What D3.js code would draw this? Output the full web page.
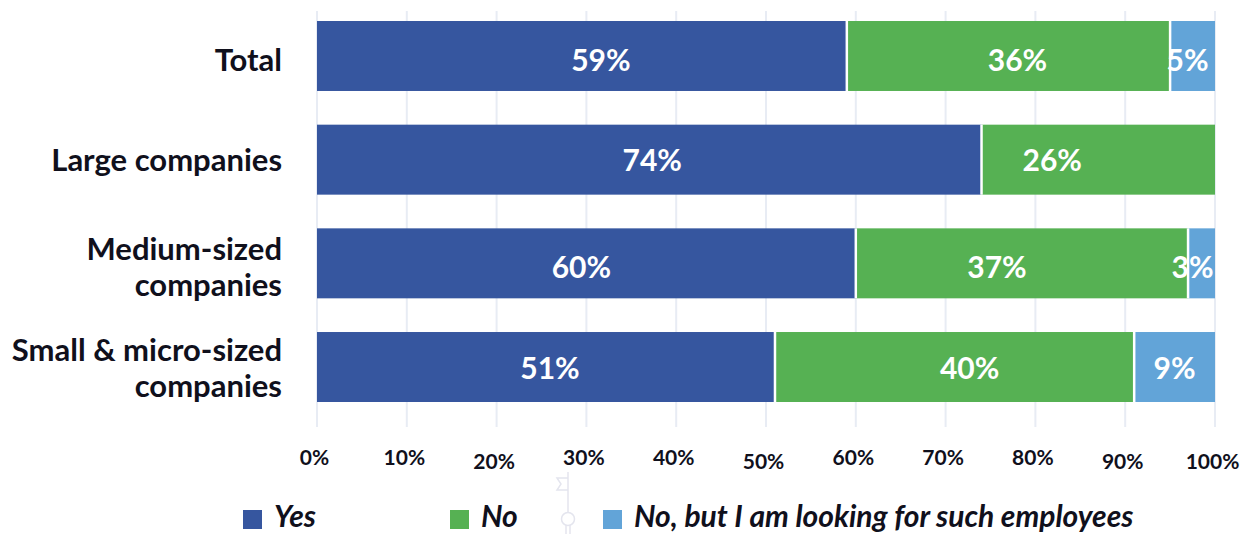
<!DOCTYPE html>
<html>
<head>
<meta charset="utf-8">
<script src="https://cdn.jsdelivr.net/npm/d3@7"></script>
<style>
  html, body { margin: 0; padding: 0; background: #ffffff; }
  svg { display: block; font-family: Lato, "Open Sans", sans-serif; }
</style>
</head>
<body>
<svg id="chart" width="1242" height="534"></svg>
<script>
// Survey answers by company size (shares in percent)
const categories = ["Total", "Large companies", "Medium-sized companies", "Small & micro-sized companies"];
const categoryLines = [["Total"], ["Large companies"], ["Medium-sized", "companies"], ["Small & micro-sized", "companies"]];
const seriesNames = ["Yes", "No", "No, but I am looking for such employees"];
const yesValues = [59, 74, 60, 51];
const noValues = [36, 26, 37, 40];
const lookingValues = [5, 0, 3, 9];
const tickValues = [0, 10, 20, 30, 40, 50, 60, 70, 80, 90, 100];
const tickLabels = ["0%", "10%", "20%", "30%", "40%", "50%", "60%", "70%", "80%", "90%", "100%"];

// layout nudges for hand-placed labels (pixels)
const valueLabelShiftX = [[19, 3, -5, 4], [9, -46, -25, 15], [-5, 0, -9, 0]];
const rowLabelShiftY = [4, 0, 4, 1];
const tickLabelShiftY = [0, 0, 4, 0, 0, 4, 0, 0, 0, 4, 4];

const colors = ["#36569f", "#56b153", "#62a4d8"];
const textColor = "#10101c";

const svg = d3.select("#chart");

const x = d3.scaleLinear().domain([0, 100]).range([317, 1215]);
const y = d3.scaleBand().domain(categories).range([21, 402]).paddingInner(0.325).paddingOuter(0);

// vertical grid lines
svg.append("g").attr("class", "grid")
  .selectAll("line").data(tickValues).join("line")
  .attr("x1", d => x(d)).attr("x2", d => x(d))
  .attr("y1", 11).attr("y2", 427)
  .attr("stroke", "#e8ecf4").attr("stroke-width", 2);

// stack the three answer series
const rows = categories.map((c, i) => ({ cat: c, idx: i, yes: yesValues[i], no: noValues[i], look: lookingValues[i] }));
const stack = d3.stack().keys(["yes", "no", "look"])(rows);

const bars = svg.append("g").attr("class", "bars");
stack.forEach((layer, si) => {
  const segs = layer.filter(d => d[1] - d[0] > 0);
  const g = bars.append("g");
  g.selectAll("rect").data(segs).join("rect")
    .attr("x", d => x(d[0]))
    .attr("y", d => y(d.data.cat))
    .attr("width", d => x(d[1]) - x(d[0]))
    .attr("height", y.bandwidth())
    .attr("fill", colors[si]);
  // white separators between segments
  if (si > 0) {
    g.selectAll("line").data(segs).join("line")
      .attr("x1", d => x(d[0])).attr("x2", d => x(d[0]))
      .attr("y1", d => y(d.data.cat)).attr("y2", d => y(d.data.cat) + y.bandwidth())
      .attr("stroke", "#ffffff").attr("stroke-width", 2.5);
  }
  g.selectAll("text").data(segs).join("text")
    .attr("x", d => (x(d[0]) + x(d[1])) / 2 + valueLabelShiftX[si][d.data.idx])
    .attr("y", d => y(d.data.cat) + y.bandwidth() / 2 + rowLabelShiftY[d.data.idx] + 11)
    .attr("text-anchor", "middle")
    .attr("fill", "#ffffff")
    .attr("font-weight", 700)
    .attr("font-size", 30)
    .text(d => Math.round(d[1] - d[0]) + "%");
});

// category labels
const labels = svg.append("g").attr("class", "cat-labels");
categories.forEach((c, i) => {
  const lines = categoryLines[i];
  const cy = y(c) + y.bandwidth() / 2 + rowLabelShiftY[i];
  const lh = 36;
  const t = labels.append("text")
    .attr("text-anchor", "end")
    .attr("font-weight", 700)
    .attr("font-size", 31)
    .attr("fill", textColor);
  lines.forEach((ln, k) => {
    t.append("tspan")
      .attr("x", 282)
      .attr("y", cy + 11 + (k - (lines.length - 1) / 2) * lh)
      .text(ln);
  });
});

// x axis tick labels
const axis = d3.axisBottom(x).tickValues(tickValues).tickFormat((d, i) => tickLabels[i]).tickSize(0).tickPadding(0);
const ax = svg.append("g").attr("transform", "translate(0,450)").call(axis);
ax.select(".domain").remove();
ax.selectAll("text")
  .attr("font-family", "Lato, sans-serif")
  .attr("font-weight", 700)
  .attr("font-size", 21)
  .attr("fill", textColor)
  .attr("dx", -3)
  .attr("y", (d, i) => tickLabelShiftY[i]);

// faint decorative marker below the axis
const deco = svg.append("g").attr("stroke", "#e4e5ee").attr("fill", "none").attr("stroke-width", 1.5);
deco.append("line").attr("x1", 568).attr("x2", 568).attr("y1", 472).attr("y2", 512);
deco.append("path").attr("d", "M568,478 L557,478 L561,484 L557,490 L568,490");
deco.append("circle").attr("cx", 568).attr("cy", 519).attr("r", 6.5);
deco.append("line").attr("x1", 566).attr("x2", 566).attr("y1", 525).attr("y2", 534);
deco.append("line").attr("x1", 570).attr("x2", 570).attr("y1", 525).attr("y2", 534);

// legend
const legendX = [243, 450, 603];
const legend = svg.append("g").attr("class", "legend");
seriesNames.forEach((name, i) => {
  const g = legend.append("g").attr("transform", `translate(${legendX[i]},510)`);
  g.append("rect").attr("width", 19).attr("height", 19).attr("fill", colors[i]);
  g.append("text")
    .attr("x", 31).attr("y", 17)
    .attr("font-weight", 700)
    .attr("font-style", "italic")
    .attr("font-size", 30)
    .attr("fill", textColor)
    .text(name);
});
</script>
</body>
</html>
